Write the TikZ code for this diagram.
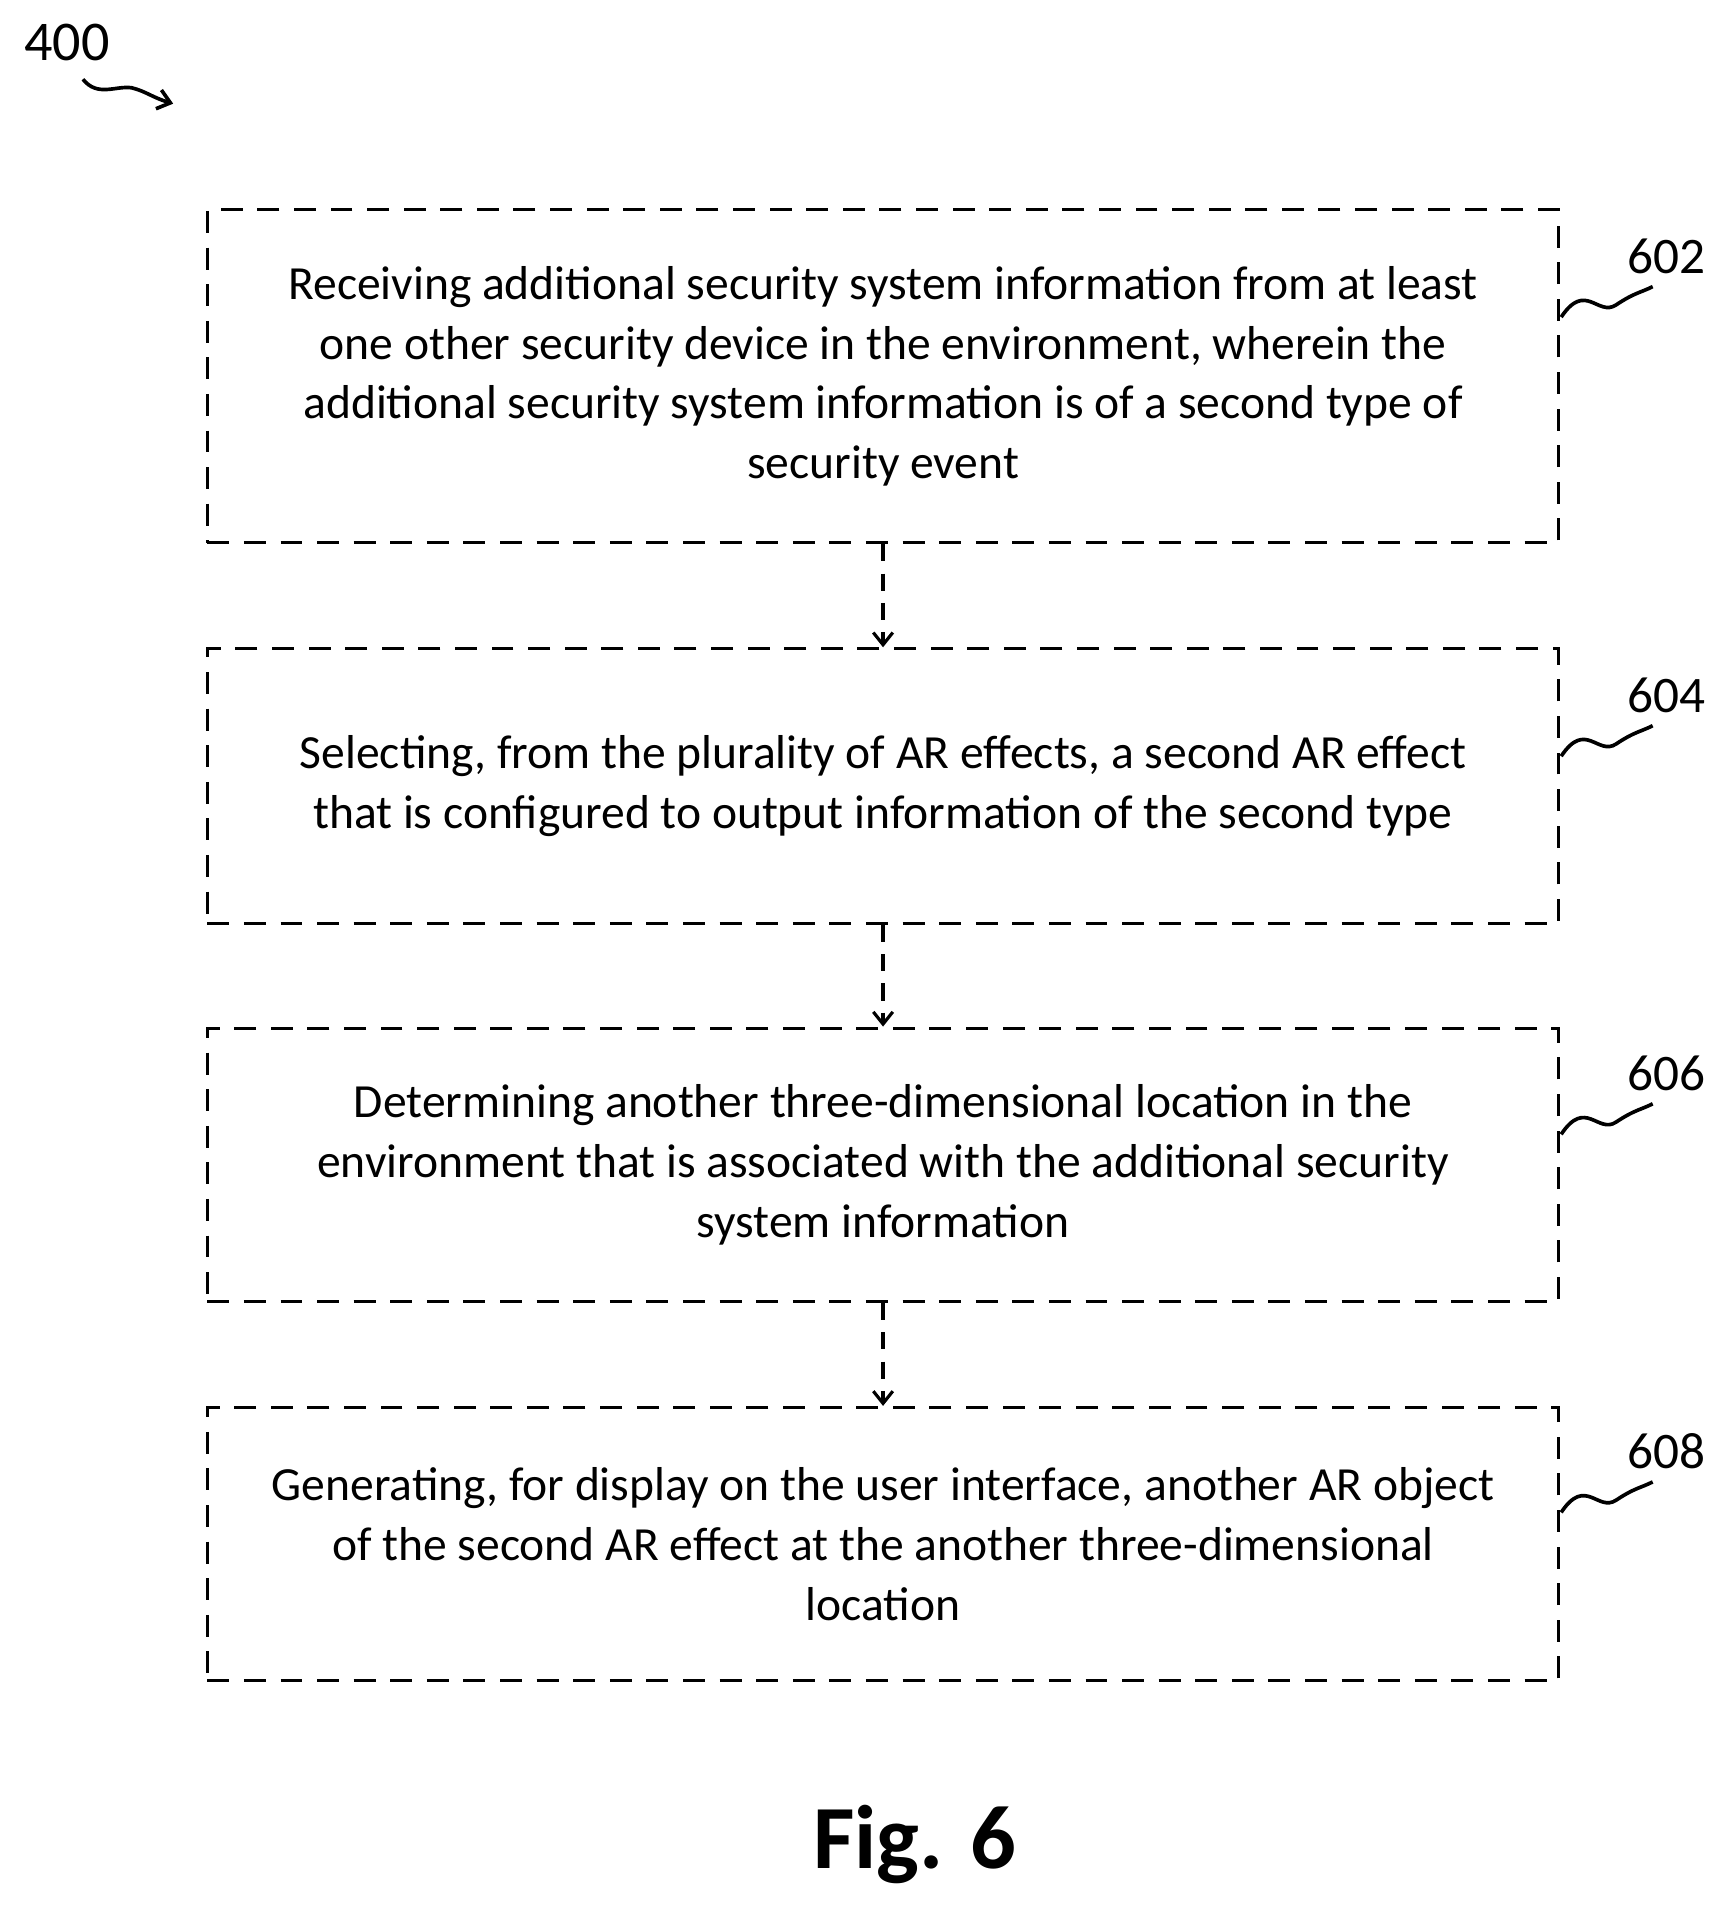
\documentclass[tikz,border=0pt]{standalone}
\usepackage{fontspec}
\setmainfont{Carlito}
\usetikzlibrary{arrows.meta,decorations.pathmorphing}
\begin{document}
\begin{tikzpicture}[x=0.5pt,y=-0.5pt,
  box/.style={draw,line width=1.3pt,dash pattern=on 9pt off 6pt,minimum width=554pt,inner sep=0pt,align=center,font=\fontsize{19.5}{24.5}\selectfont},
  conn/.style={line width=1.3pt,dash pattern=on 7pt off 5pt,-{Straight Barb[length=5pt,width=8pt]}},
  lab/.style={font=\fontsize{21}{24}\selectfont},
  sq/.style={line width=1.5pt}]
\useasboundingbox (0,0) rectangle (1414,1566);
\node[box,minimum height=136.5pt] (b1) at (724,308.5) {Receiving additional security system information from at least\\one other security device in the environment, wherein the\\additional security system information is of a second type of\\security event};
\node[box,minimum height=112.5pt] (b2) at (724,644.5) {Selecting, from the plurality of AR effects, a second AR effect\\that is configured to output information of the second type};
\node[box,minimum height=112pt] (b3) at (724,955) {Determining another three-dimensional location in the\\environment that is associated with the additional security\\system information};
\node[box,minimum height=112pt] (b4) at (724,1266) {Generating, for display on the user interface, another AR object\\of the second AR effect at the another three-dimensional\\location};
\draw[conn] (b1.south) -- (b2.north);
\draw[conn] (b2.south) -- (b3.north);
\draw[conn] (b3.south) -- (b4.north);
\foreach \n/\y/\t in {b1/210/602,b2/570/604,b3/880/606,b4/1190/608}{
  \node[lab] (l\t) at (1366,\y) {\t};
  \coordinate (s\t) at (1280,\y+50);
  \draw[sq] (s\t) .. controls (1300,\y+20) and (1310,\y+50) .. (1325,\y+40) .. controls (1340,\y+30) and (1345,\y+30) .. (1355,\y+25);
}
\node[lab,font=\fontsize{23}{26}\selectfont] (n400) at (55,35) {400};
\coordinate (a1) at (68,65);
\coordinate (a2) at (142,85);
\draw[sq,-{Straight Barb[length=5pt,width=8pt]}] (a1) .. controls (80,80) and (95,70) .. (108,72) .. controls (120,75) and (125,80) .. (a2);
\node[font=\fontsize{37}{40}\selectfont\bfseries] (fig) at (750,1512) {Fig. 6};
\end{tikzpicture}
\end{document}
